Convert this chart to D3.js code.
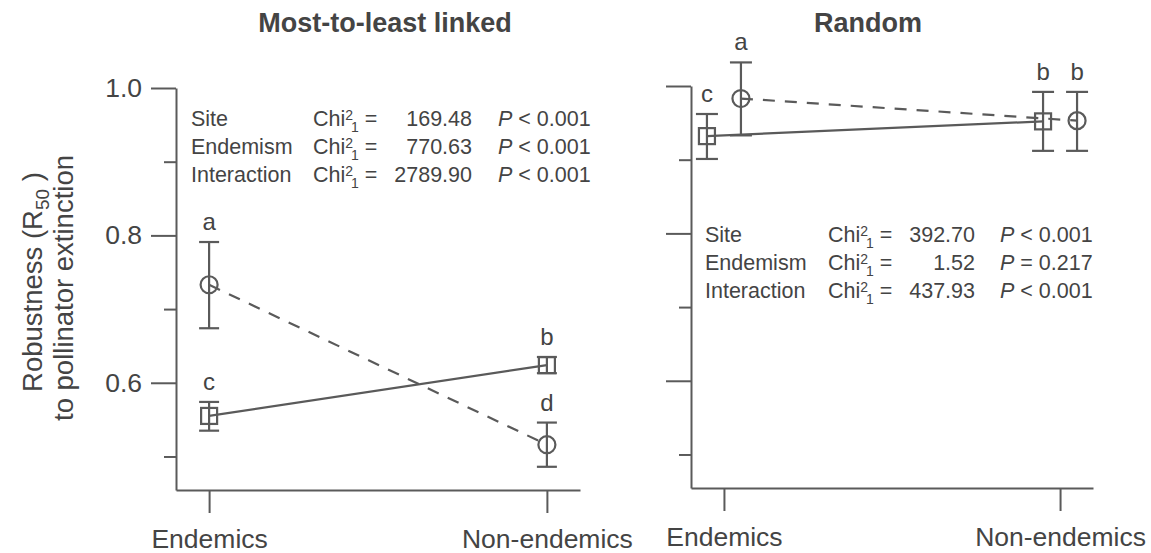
<!DOCTYPE html>
<html>
<head>
<meta charset="utf-8">
<script src="https://cdn.jsdelivr.net/npm/d3@7"></script>
<style>
  body { margin: 0; background: #fff; }
  text { font-family: "Liberation Sans", Arial, sans-serif; fill: #444; }
</style>
</head>
<body>
<svg id="chart" width="1151" height="553"></svg>
<script>
const categories = ["Endemics", "Non-endemics"];
const panelTitles = ["Most-to-least linked", "Random"];
const majorTicks = [0.6, 0.8, 1.0];
const minorTicks = [0.5, 0.7, 0.9];

// most-to-least linked
const linkedSquareMean = [0.555, 0.624];
const linkedSquareLo = [0.535, 0.613];
const linkedSquareHi = [0.574, 0.635];
const linkedSquareLetters = ["c", "b"];
const linkedCircleMean = [0.733, 0.516];
const linkedCircleLo = [0.674, 0.486];
const linkedCircleHi = [0.791, 0.546];
const linkedCircleLetters = ["a", "d"];

// random
const randomSquareMean = [0.932, 0.952];
const randomSquareLo = [0.901, 0.912];
const randomSquareHi = [0.962, 0.992];
const randomSquareLetters = ["c", "b"];
const randomCircleMean = [0.983, 0.953];
const randomCircleLo = [0.933, 0.912];
const randomCircleHi = [1.032, 0.992];
const randomCircleLetters = ["a", "b"];

// GLMM stats
const statTerms = ["Site", "Endemism", "Interaction"];
const linkedChi = ["169.48", "770.63", "2789.90"];
const linkedP = ["< 0.001", "< 0.001", "< 0.001"];
const randomChi = ["392.70", "1.52", "437.93"];
const randomP = ["< 0.001", "= 0.217", "< 0.001"];

const ink = "#5a5a5a";
const svg = d3.select("#chart");

const panels = [
  { title: panelTitles[0], left: 176, right: 580, top: 88, bottom: 490, titleX: 385, jitter: 0, cap: 20,
    tickLabels: true, cols: [191, 313, 472, 498], statY: 126,
    sq: [linkedSquareMean, linkedSquareLo, linkedSquareHi, linkedSquareLetters],
    ci: [linkedCircleMean, linkedCircleLo, linkedCircleHi, linkedCircleLetters],
    chi: linkedChi, p: linkedP },
  { title: panelTitles[1], left: 691, right: 1093, top: 86, bottom: 488, titleX: 868, jitter: 17, cap: 22,
    tickLabels: false, cols: [705, 828, 975, 1000], statY: 242,
    sq: [randomSquareMean, randomSquareLo, randomSquareHi, randomSquareLetters],
    ci: [randomCircleMean, randomCircleLo, randomCircleHi, randomCircleLetters],
    chi: randomChi, p: randomP }
];

function styleAxis(g) {
  g.selectAll("path, line").attr("stroke", ink).attr("stroke-width", 2);
  g.selectAll("text").attr("fill", "#444").style("font-size", "26.5px")
    .style("font-family", "'Liberation Sans', Arial, sans-serif");
}

panels.forEach(function (pn) {
  const y = d3.scaleLinear().domain([0.4545, 1.0]).range([pn.bottom, pn.top]);
  const x = d3.scalePoint().domain(categories).range([pn.left, pn.right]).padding(0.098);

  svg.append("text").attr("x", pn.titleX).attr("y", 32).attr("text-anchor", "middle")
    .style("font-size", "27px").style("font-weight", 700).attr("fill", "#555").text(pn.title);

  // axes
  svg.append("g").attr("transform", `translate(${pn.left},0)`)
    .call(d3.axisLeft(y).tickValues(majorTicks).tickSize(25).tickSizeOuter(0).tickPadding(9)
      .tickFormat(pn.tickLabels ? d3.format(".1f") : ""))
    .call(styleAxis);
  svg.append("g").attr("transform", `translate(${pn.left},0)`)
    .call(d3.axisLeft(y).tickValues(minorTicks).tickSize(12).tickFormat(""))
    .call(g => g.select(".domain").remove())
    .call(styleAxis);
  svg.append("g").attr("transform", `translate(0,${pn.bottom})`)
    .call(d3.axisBottom(x).tickSize(23).tickSizeOuter(0).tickPadding(16))
    .call(styleAxis);

  // connecting lines
  const line = (off) => d3.line().x((d, i) => x(categories[i]) + off).y(d => y(d));
  svg.append("path").datum(pn.sq[0]).attr("d", line(-pn.jitter))
    .attr("fill", "none").attr("stroke", ink).attr("stroke-width", 2.2);
  svg.append("path").datum(pn.ci[0]).attr("d", line(pn.jitter))
    .attr("fill", "none").attr("stroke", ink).attr("stroke-width", 2.2).attr("stroke-dasharray", "12,10");

  // error bars, markers, letters
  [[pn.sq, -pn.jitter, "square"], [pn.ci, pn.jitter, "circle"]].forEach(function ([s, off, shape]) {
    categories.forEach(function (c, i) {
      const px = x(c) + off;
      const g = svg.append("g").attr("stroke", ink).attr("stroke-width", 2.2).attr("fill", "none");
      g.append("line").attr("x1", px).attr("x2", px).attr("y1", y(s[1][i])).attr("y2", y(s[2][i]));
      [s[1][i], s[2][i]].forEach(v => g.append("line")
        .attr("x1", px - pn.cap / 2).attr("x2", px + pn.cap / 2).attr("y1", y(v)).attr("y2", y(v)));
      if (shape === "circle") {
        g.append("circle").attr("cx", px).attr("cy", y(s[0][i])).attr("r", 8.5);
      } else {
        g.append("rect").attr("x", px - 8).attr("y", y(s[0][i]) - 8).attr("width", 16).attr("height", 16);
      }
      const top = Math.min(y(s[2][i]), y(s[0][i]) - 8);
      svg.append("text").attr("x", px).attr("y", top - 12).attr("text-anchor", "middle")
        .style("font-size", "24px").text(s[3][i]);
    });
  });

  // stats table
  statTerms.forEach(function (t, i) {
    const ry = pn.statY + i * 28;
    const fs = "21.5px";
    svg.append("text").attr("x", pn.cols[0]).attr("y", ry).style("font-size", fs).text(t);
    const chi = svg.append("text").attr("x", pn.cols[1]).attr("y", ry).style("font-size", fs);
    chi.append("tspan").text("Chi");
    chi.append("tspan").attr("dy", -6).style("font-size", "14px").text("2");
    chi.append("tspan").attr("dx", -2).attr("dy", 12).style("font-size", "14px").text("1");
    chi.append("tspan").attr("dy", -6).text(" =");
    svg.append("text").attr("x", pn.cols[2]).attr("y", ry).attr("text-anchor", "end")
      .style("font-size", fs).text(pn.chi[i]);
    const pt = svg.append("text").attr("x", pn.cols[3]).attr("y", ry).style("font-size", fs);
    pt.append("tspan").style("font-style", "italic").text("P");
    pt.append("tspan").text(" " + pn.p[i]);
  });
});

// y axis title
const yl1 = svg.append("text").attr("transform", "translate(42,282) rotate(-90)")
  .attr("text-anchor", "middle").style("font-size", "27.5px");
yl1.append("tspan").text("Robustness (R");
yl1.append("tspan").attr("dy", 7).style("font-size", "19px").text("50");
yl1.append("tspan").attr("dy", -7).text(" )");
svg.append("text").attr("transform", "translate(73,288) rotate(-90)")
  .attr("text-anchor", "middle").style("font-size", "27.5px").text("to pollinator extinction");
</script>
</body>
</html>
